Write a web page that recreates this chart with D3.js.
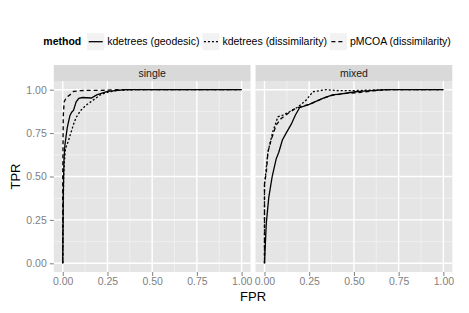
<!DOCTYPE html>
<html>
<head>
<meta charset="utf-8">
<script src="https://cdn.jsdelivr.net/npm/d3@7"></script>
<style>
  body { margin: 0; background: #fff; }
  text { font-family: "Liberation Sans", Arial, sans-serif; }
</style>
</head>
<body>
<div id="chart"></div>
<script>
const width = 469;
const height = 313;

// data: [FPR, TPR]
const methods = ["kdetrees (geodesic)", "kdetrees (dissimilarity)", "pMCOA (dissimilarity)"];
const panels = ["single", "mixed"];
const ticks = [0, 0.25, 0.5, 0.75, 1];
const tickLabels = ["0.00", "0.25", "0.50", "0.75", "1.00"];

const singleGeodesic = [[0,0],[0.003,0.4],[0.007,0.6],[0.012,0.68],[0.025,0.78],[0.04,0.85],[0.05,0.87],[0.06,0.88],
  [0.075,0.93],[0.09,0.95],[0.11,0.955],[0.16,0.952],[0.19,0.97],[0.25,0.99],[0.35,1],[1,1]];
const singleDissim = [[0,0],[0.003,0.3],[0.005,0.5],[0.01,0.6],[0.015,0.66],[0.03,0.70],[0.045,0.75],[0.06,0.80],
  [0.075,0.84],[0.1,0.88],[0.13,0.91],[0.17,0.94],[0.21,0.97],[0.25,0.985],[0.3,0.995],[0.4,1],[1,1]];
const singlePmcoa = [[0,0],[0,0.5],[0.003,0.85],[0.008,0.93],[0.02,0.955],[0.04,0.97],[0.06,0.99],[0.1,0.995],
  [0.25,0.997],[0.3,1],[1,1]];

const mixedGeodesic = [[0,0],[0.01,0.23],[0.024,0.38],[0.043,0.5],[0.065,0.6],[0.08,0.64],[0.1,0.71],[0.121,0.75],
  [0.149,0.8],[0.173,0.854],[0.196,0.896],[0.25,0.915],[0.326,0.95],[0.38,0.97],[0.42,0.975],[0.51,0.988],
  [0.535,0.99],[0.68,1],[1,1]];
const mixedDissim = [[0,0],[0,0.45],[0.01,0.55],[0.019,0.64],[0.047,0.76],[0.075,0.844],[0.103,0.854],[0.14,0.873],
  [0.186,0.9],[0.233,0.94],[0.27,0.988],[0.345,1],[0.42,0.994],[0.48,0.994],[0.6,0.998],[0.7,1],[1,1]];
const mixedPmcoa = [[0,0],[0,0.46],[0.01,0.52],[0.019,0.64],[0.037,0.71],[0.065,0.796],[0.093,0.834],[0.131,0.863],
  [0.173,0.892],[0.196,0.9],[0.25,0.915],[0.326,0.95],[0.38,0.968],[0.456,0.979],[0.535,0.984],[0.646,0.998],
  [0.7,1],[1,1]];

const series = {
  single: [singleGeodesic, singleDissim, singlePmcoa],
  mixed: [mixedGeodesic, mixedDissim, mixedPmcoa]
};
const dashes = [null, "2,2", "4,3"];

const plotLeft = 53.8, plotRight = 452.3, gap = 5;
const stripTop = 65, stripH = 16;
const panelTop = stripTop + stripH, panelBottom = 272;
const panelW = (plotRight - plotLeft - gap) / 2;

const svg = d3.select("#chart").append("svg")
  .attr("width", width)
  .attr("height", height);

const y = d3.scaleLinear().domain([-0.05, 1.05]).range([panelBottom, panelTop]);

panels.forEach((name, i) => {
  const x0 = plotLeft + i * (panelW + gap);
  const x = d3.scaleLinear().domain([-0.05, 1.05]).range([x0, x0 + panelW]);
  const g = svg.append("g");

  // strip
  g.append("rect").attr("x", x0).attr("y", stripTop).attr("width", panelW).attr("height", stripH)
    .attr("fill", "#d9d9d9");
  g.append("text").attr("x", x0 + panelW / 2).attr("y", stripTop + stripH / 2)
    .attr("dy", "0.35em").attr("text-anchor", "middle")
    .attr("font-size", 10.5).attr("fill", "#1a1a1a").text(name);

  // panel
  g.append("rect").attr("x", x0).attr("y", panelTop).attr("width", panelW).attr("height", panelBottom - panelTop)
    .attr("fill", "#e5e5e5");

  const minor = [0.125, 0.375, 0.625, 0.875];
  g.selectAll(".minx").data(minor).join("line")
    .attr("x1", d => x(d)).attr("x2", d => x(d)).attr("y1", panelTop).attr("y2", panelBottom)
    .attr("stroke", "#f2f2f2").attr("stroke-width", 0.8);
  g.selectAll(".miny").data(minor).join("line")
    .attr("y1", d => y(d)).attr("y2", d => y(d)).attr("x1", x0).attr("x2", x0 + panelW)
    .attr("stroke", "#f2f2f2").attr("stroke-width", 0.8);
  g.selectAll(".majx").data(ticks).join("line")
    .attr("x1", d => x(d)).attr("x2", d => x(d)).attr("y1", panelTop).attr("y2", panelBottom)
    .attr("stroke", "#fff").attr("stroke-width", 1.4);
  g.selectAll(".majy").data(ticks).join("line")
    .attr("y1", d => y(d)).attr("y2", d => y(d)).attr("x1", x0).attr("x2", x0 + panelW)
    .attr("stroke", "#fff").attr("stroke-width", 1.4);

  // curves
  const line = d3.line().x(d => x(d[0])).y(d => y(d[1]));
  series[name].forEach((pts, k) => {
    g.append("path").attr("d", line(pts)).attr("fill", "none")
      .attr("stroke", "#000").attr("stroke-width", 1.3)
      .attr("stroke-dasharray", dashes[k]);
  });

  // x axis
  const xa = svg.append("g").attr("transform", `translate(0,${panelBottom})`)
    .call(d3.axisBottom(x).tickValues(ticks).tickFormat((d, j) => tickLabels[j]).tickSize(4).tickPadding(2));
  xa.select(".domain").remove();
  xa.selectAll("line").attr("stroke", "#7f7f7f");
  xa.selectAll("text").attr("fill", "#7f7f7f").attr("font-size", 10.5).attr("font-family", null);
});

// y axis
const ya = svg.append("g").attr("transform", `translate(${plotLeft},0)`)
  .call(d3.axisLeft(y).tickValues(ticks).tickFormat((d, j) => tickLabels[j]).tickSize(4).tickPadding(3));
ya.select(".domain").remove();
ya.selectAll("line").attr("stroke", "#7f7f7f");
ya.selectAll("text").attr("fill", "#7f7f7f").attr("font-size", 10.5).attr("font-family", null);

// axis titles
svg.append("text").attr("x", (plotLeft + plotRight) / 2).attr("y", 301)
  .attr("text-anchor", "middle").attr("font-size", 13).text("FPR");
svg.append("text").attr("transform", `translate(20,${(panelTop + panelBottom) / 2}) rotate(-90)`)
  .attr("text-anchor", "middle").attr("font-size", 13).text("TPR");

// legend
const legY = 41.7;
let lx = 43.3;
const title = svg.append("text").attr("x", lx).attr("y", legY).attr("dy", "0.35em")
  .attr("font-size", 10.5).attr("font-weight", "bold").text("method");
lx += title.node().getComputedTextLength() + 6;
methods.forEach((m, k) => {
  const key = 17;
  svg.append("rect").attr("x", lx).attr("y", legY - key / 2).attr("width", key).attr("height", key)
    .attr("fill", "#f2f2f2");
  svg.append("line").attr("x1", lx + 1.5).attr("x2", lx + key - 1.5).attr("y1", legY).attr("y2", legY)
    .attr("stroke", "#000").attr("stroke-width", 1.3).attr("stroke-dasharray", dashes[k]);
  lx += key + 3;
  const t = svg.append("text").attr("x", lx).attr("y", legY).attr("dy", "0.35em")
    .attr("font-size", 10.5).text(m);
  lx += t.node().getComputedTextLength() + 3;
});
</script>
</body>
</html>
